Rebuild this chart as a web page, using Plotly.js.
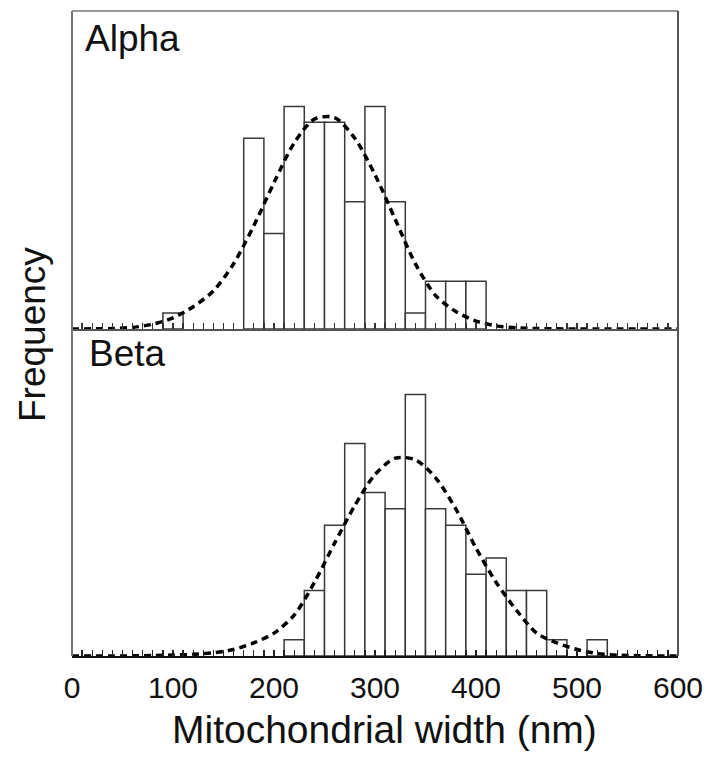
<!DOCTYPE html>
<html>
<head>
<meta charset="utf-8">
<script src="https://cdn.plot.ly/plotly-3.0.1.min.js"></script>
<style>html,body{margin:0;padding:0;background:#fff;}#chart{width:707px;height:760px;}</style>
</head>
<body>
<div id="chart"></div>
<script>
// Alpha histogram (bin centers, nm; bin width 20 nm)
var alphaBins = [100, 180, 200, 220, 240, 260, 280, 300, 320, 340, 360, 380, 400];
var alphaCounts = [1, 12, 6, 14, 13, 13, 8, 14, 8, 1, 3, 3, 3];
// Beta histogram
var betaBins = [220, 240, 260, 280, 300, 320, 340, 360, 380, 400, 420, 440, 460, 480, 520];
var betaCounts = [1, 4, 8, 13, 10, 9, 16, 9, 8, 5, 6, 4, 4, 1, 1];
// Fitted curves
var fitX = [0, 20, 40, 60, 80, 100, 120, 140, 160, 180, 200, 220, 240, 260, 280, 300,
            320, 340, 360, 380, 400, 420, 440, 460, 480, 500, 520, 540, 560, 580, 600];
var alphaFit = [0, 0.01, 0.03, 0.1, 0.3, 0.7, 1.4, 2.4, 4.1, 6.5, 9.2, 11.7, 13.2, 13.3, 12.0, 9.7,
                6.9, 4.1, 2.1, 1.1, 0.5, 0.2, 0.08, 0.03, 0.01, 0, 0, 0, 0, 0, 0];
var betaFit = [0, 0, 0, 0.01, 0.03, 0.06, 0.1, 0.2, 0.4, 0.8, 1.4, 2.5, 4.5, 6.9, 9.2, 11.1,
               12.1, 12.0, 10.9, 9.0, 6.6, 4.5, 2.8, 1.4, 0.8, 0.4, 0.15, 0.05, 0.02, 0, 0];
var xTickVals = [0, 100, 200, 300, 400, 500, 600];
var xTickText = ['0', '100', '200', '300', '400', '500', '600'];
var panelLabels = ['Alpha', 'Beta'];

var FONT = 'Liberation Sans, Arial, Helvetica, sans-serif';
var barStyle = {color: '#ffffff', line: {color: '#3a3a3a', width: 1.5}};
var fitLine = {color: '#000000', width: 3.5, dash: '7px,5px', shape: 'spline', smoothing: 0.8};

var traces = [
  {type: 'bar', x: alphaBins, y: alphaCounts, width: 20, xaxis: 'x2', yaxis: 'y2', marker: barStyle, hoverinfo: 'x+y'},
  {type: 'scatter', mode: 'lines', x: fitX, y: alphaFit, xaxis: 'x2', yaxis: 'y2', line: fitLine},
  {type: 'bar', x: betaBins, y: betaCounts, width: 20, xaxis: 'x', yaxis: 'y', marker: barStyle, hoverinfo: 'x+y'},
  {type: 'scatter', mode: 'lines', x: fitX, y: betaFit, xaxis: 'x', yaxis: 'y', line: fitLine}
];

var split = 0.507;
var layout = {
  width: 707, height: 760,
  margin: {l: 72, r: 29, t: 11, b: 104},
  paper_bgcolor: '#ffffff', plot_bgcolor: '#ffffff',
  showlegend: false,
  bargap: 0,
  font: {family: FONT, color: '#111'},
  xaxis: {
    anchor: 'y', range: [0, 600], showgrid: false, zeroline: false,
    showline: true, linecolor: '#111', linewidth: 2,
    tickmode: 'array', tickvals: xTickVals, ticktext: xTickText,
    ticks: 'inside', ticklen: 6, tickwidth: 1.3, tickcolor: '#222',
    minor: {dtick: 10, ticks: 'inside', ticklen: 6, tickwidth: 1.3, tickcolor: '#222'},
    tickfont: {size: 30, family: FONT, color: '#111'},
    ticklabelstandoff: 4
  },
  xaxis2: {
    anchor: 'y2', matches: 'x', range: [0, 600], showgrid: false, zeroline: false,
    showline: true, linecolor: '#555', linewidth: 2, showticklabels: false,
    tickmode: 'array', tickvals: xTickVals,
    ticks: 'inside', ticklen: 6, tickwidth: 1.3, tickcolor: '#333',
    minor: {dtick: 10, ticks: 'inside', ticklen: 6, tickwidth: 1.3, tickcolor: '#333'}
  },
  yaxis: {domain: [0, split], range: [0, 20], showgrid: false, zeroline: false, showticklabels: false, ticks: ''},
  yaxis2: {domain: [split, 1], range: [0, 20], showgrid: false, zeroline: false, showticklabels: false, ticks: ''},
  shapes: [
    {type: 'line', xref: 'paper', yref: 'paper', x0: 0, x1: 1, y0: 1, y1: 1, line: {color: '#999', width: 2}},
    {type: 'line', xref: 'paper', yref: 'paper', x0: 0, x1: 0, y0: 0, y1: 1, line: {color: '#777', width: 2}},
    {type: 'line', xref: 'paper', yref: 'paper', x0: 1, x1: 1, y0: 0, y1: 1, line: {color: '#555', width: 2}}
  ],
  annotations: [
    {text: panelLabels[0], xref: 'paper', yref: 'paper', x: 0.018, y: 0.958, xanchor: 'left', yanchor: 'middle',
     showarrow: false, font: {size: 37, family: FONT, color: '#111'}},
    {text: panelLabels[1], xref: 'paper', yref: 'paper', x: 0.024, y: 0.469, xanchor: 'left', yanchor: 'middle',
     showarrow: false, font: {size: 37, family: FONT, color: '#111'}},
    {text: 'Frequency', xref: 'paper', yref: 'paper', x: -0.064, y: 0.498, xanchor: 'center', yanchor: 'middle',
     textangle: -90, showarrow: false, font: {size: 37, family: FONT, color: '#111'}},
    {text: 'Mitochondrial width (nm)', xref: 'paper', yref: 'paper', x: 0.515, y: -0.114, xanchor: 'center', yanchor: 'middle',
     showarrow: false, font: {size: 39, family: FONT, color: '#111'}}
  ]
};

Plotly.newPlot('chart', traces, layout, {displayModeBar: false, staticPlot: true});
</script>
</body>
</html>
